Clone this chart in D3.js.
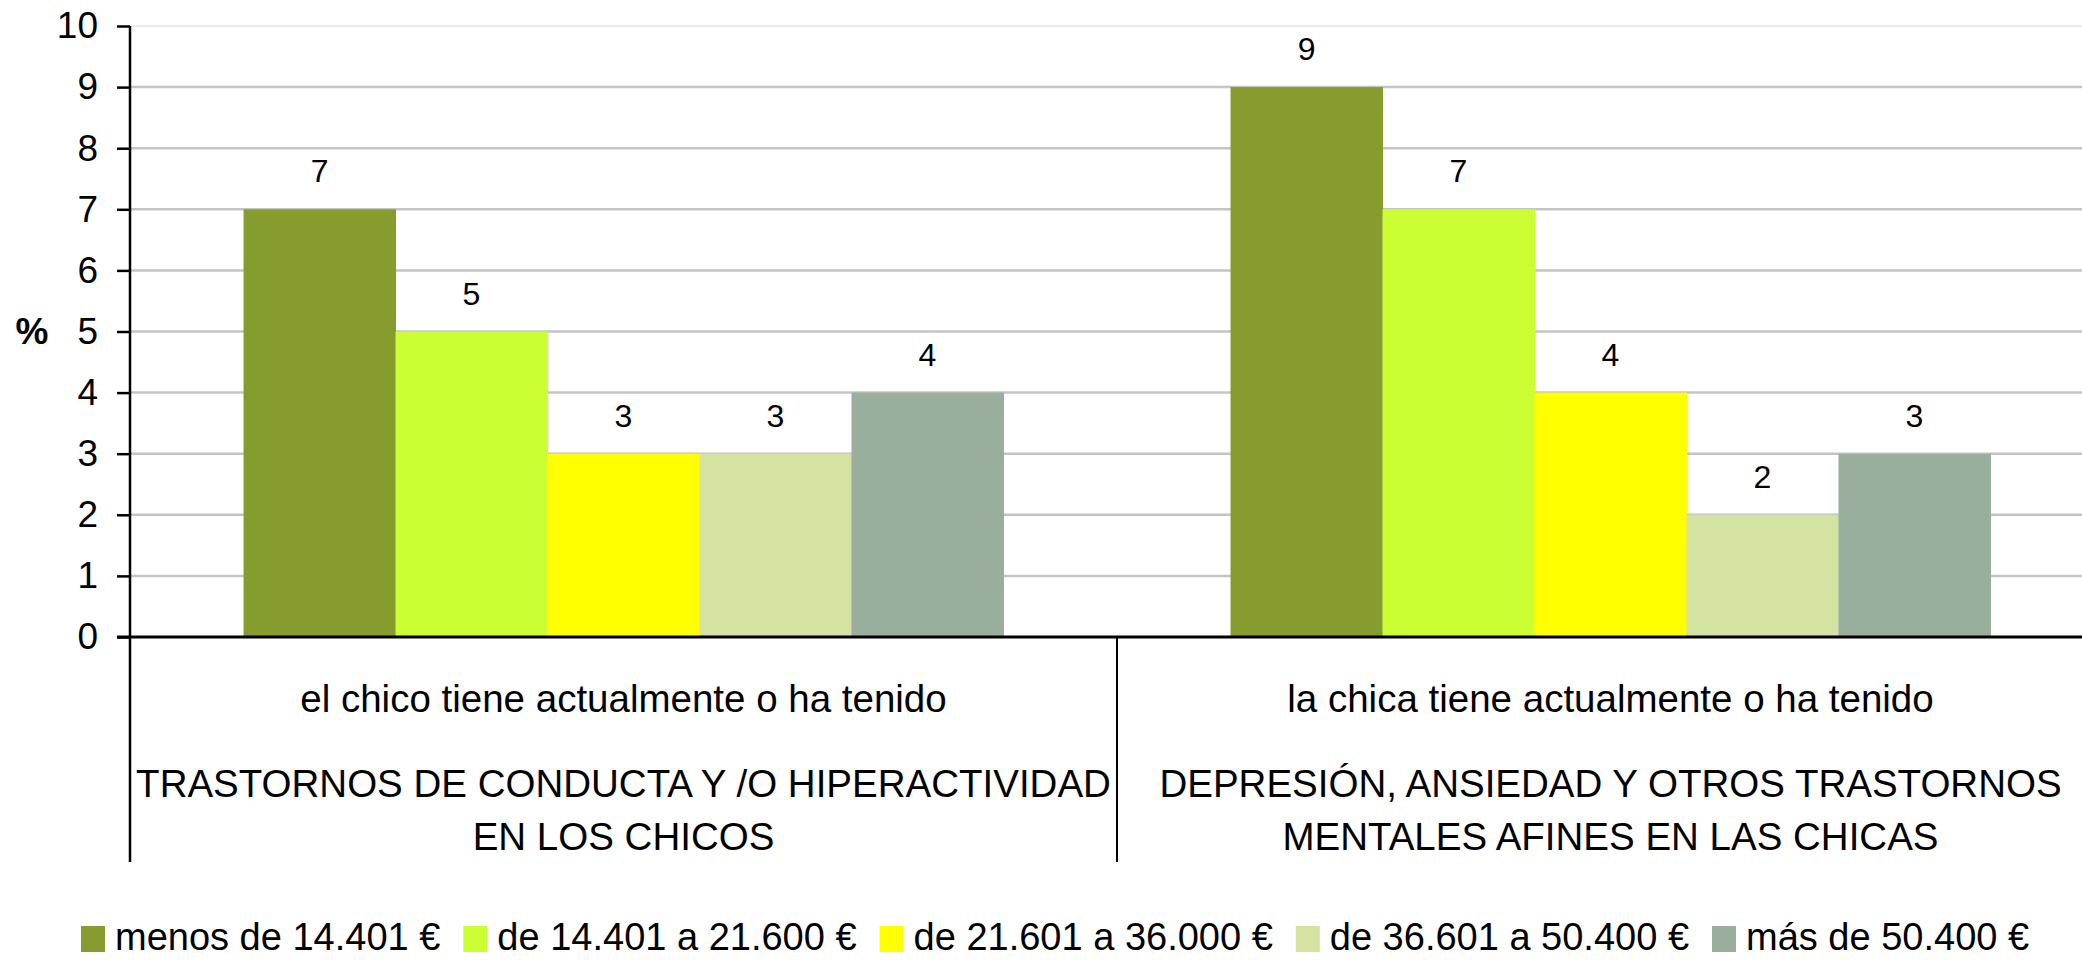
<!DOCTYPE html>
<html>
<head>
<meta charset="utf-8">
<script src="https://cdn.jsdelivr.net/npm/d3@7"></script>
<style>
  html, body { margin: 0; padding: 0; background: #fff; }
  svg { display: block; font-family: "Liberation Sans", Arial, Helvetica, sans-serif; }
</style>
</head>
<body>
<svg id="chart" width="2082" height="960"></svg>
<script>
// ---- data ----
const categoryIntro = ["el chico tiene actualmente o ha tenido", "la chica tiene actualmente o ha tenido"];
const categoryTitle = [
  ["TRASTORNOS DE CONDUCTA Y /O HIPERACTIVIDAD", "EN LOS CHICOS"],
  ["DEPRESIÓN, ANSIEDAD Y OTROS TRASTORNOS", "MENTALES AFINES EN LAS CHICAS"]
];
const seriesNames = ["menos de 14.401 €", "de 14.401 a 21.600 €", "de 21.601 a 36.000 €", "de 36.601 a 50.400 €", "más de 50.400 €"];
const seriesColors = ["#869C2F", "#CCFF33", "#FFFF00", "#D4E3A1", "#99AE9C"];
const valuesMenos14401 = [7, 9];
const values14401a21600 = [5, 7];
const values21601a36000 = [3, 4];
const values36601a50400 = [3, 2];
const valuesMas50400 = [4, 3];
const seriesValues = [valuesMenos14401, values14401a21600, values21601a36000, values36601a50400, valuesMas50400];
const yTicks = [0, 1, 2, 3, 4, 5, 6, 7, 8, 9, 10];
const yLabel = "%";

(function () {
// ---- layout ----
const svg = d3.select("#chart");
const mLeft = 130, mRight = 2104, mTop = 26, mBottom = 637, catBottom = 862;

const x0 = d3.scaleBand().domain(d3.range(categoryIntro.length)).range([mLeft, mRight]).padding(0);
const x1 = d3.scaleBand().domain(d3.range(seriesNames.length)).range([0, x0.bandwidth()])
  .paddingInner(0).paddingOuter(0.747);
const y = d3.scaleLinear().domain([0, 10]).range([mBottom, mTop]);

// gridlines
svg.append("g").selectAll("line").data(yTicks.filter(d => d > 0)).join("line")
  .attr("x1", mLeft).attr("x2", mRight)
  .attr("y1", d => y(d)).attr("y2", d => y(d))
  .attr("stroke", d => d === 10 ? "#e4e4e4" : "#c4c4c4")
  .attr("stroke-width", d => d === 10 ? 1.5 : 2.5);

// bars
const groups = svg.append("g").selectAll("g").data(categoryIntro.map((c, i) => i)).join("g")
  .attr("transform", i => `translate(${x0(i)},0)`);

groups.selectAll("rect").data(ci => seriesValues.map((vals, si) => ({ si, v: vals[ci] }))).join("rect")
  .attr("x", d => x1(d.si))
  .attr("width", x1.bandwidth() + 0.5)
  .attr("y", d => y(d.v))
  .attr("height", d => y(0) - y(d.v))
  .attr("fill", d => seriesColors[d.si]);

groups.selectAll("text.val").data(ci => seriesValues.map((vals, si) => ({ si, v: vals[ci] }))).join("text")
  .attr("class", "val")
  .attr("x", d => x1(d.si) + x1.bandwidth() / 2)
  .attr("y", d => y(d.v) - 27)
  .attr("text-anchor", "middle")
  .attr("font-size", 32)
  .attr("fill", "#000")
  .text(d => d.v);

// y axis
const yAxis = d3.axisLeft(y).tickValues(yTicks).tickSize(13).tickPadding(19).tickFormat(d3.format("d"));
const gy = svg.append("g").attr("transform", `translate(${mLeft},0)`).call(yAxis);
gy.select(".domain").remove();
gy.selectAll(".tick line").attr("stroke", "#000").attr("stroke-width", 2.5);
gy.selectAll(".tick text").attr("font-size", 37).attr("fill", "#000")
  .attr("font-family", "'Liberation Sans', Arial, sans-serif");

// axis lines
svg.append("line").attr("x1", mLeft).attr("x2", mLeft).attr("y1", y(10)).attr("y2", catBottom)
  .attr("stroke", "#000").attr("stroke-width", 2.5);
svg.append("line").attr("x1", mLeft - 13).attr("x2", mRight).attr("y1", y(0)).attr("y2", y(0))
  .attr("stroke", "#000").attr("stroke-width", 3);
// category dividers
svg.append("g").selectAll("line").data(d3.range(1, categoryIntro.length)).join("line")
  .attr("x1", i => x0(i)).attr("x2", i => x0(i))
  .attr("y1", y(0)).attr("y2", catBottom)
  .attr("stroke", "#000").attr("stroke-width", 2);

// y label
svg.append("text").attr("x", 32).attr("y", y(5)).attr("dy", "0.35em")
  .attr("text-anchor", "middle").attr("font-size", 37).attr("font-weight", "bold")
  .text(yLabel);

// category labels
const catG = svg.append("g").selectAll("g").data(categoryIntro.map((c, i) => i)).join("g");
catG.append("text")
  .attr("x", i => x0(i) + x0.bandwidth() / 2).attr("y", 712)
  .attr("text-anchor", "middle").attr("font-size", 38.5).text(i => categoryIntro[i]);
catG.append("text")
  .attr("x", i => x0(i) + x0.bandwidth() / 2).attr("y", 797)
  .attr("text-anchor", "middle").attr("font-size", 38.5).text(i => categoryTitle[i][0]);
catG.append("text")
  .attr("x", i => x0(i) + x0.bandwidth() / 2).attr("y", 850)
  .attr("text-anchor", "middle").attr("font-size", 38.5).text(i => categoryTitle[i][1]);

// legend
const legend = svg.append("g");
let lx = 81;
seriesNames.forEach((name, i) => {
  legend.append("rect").attr("x", lx).attr("y", 926).attr("width", 24).attr("height", 26)
    .attr("fill", seriesColors[i]);
  const t = legend.append("text").attr("x", lx + 34).attr("y", 950).attr("font-size", 38).text(name);
  lx += 34 + t.node().getComputedTextLength() + 23;
});
})();
</script>
</body>
</html>
